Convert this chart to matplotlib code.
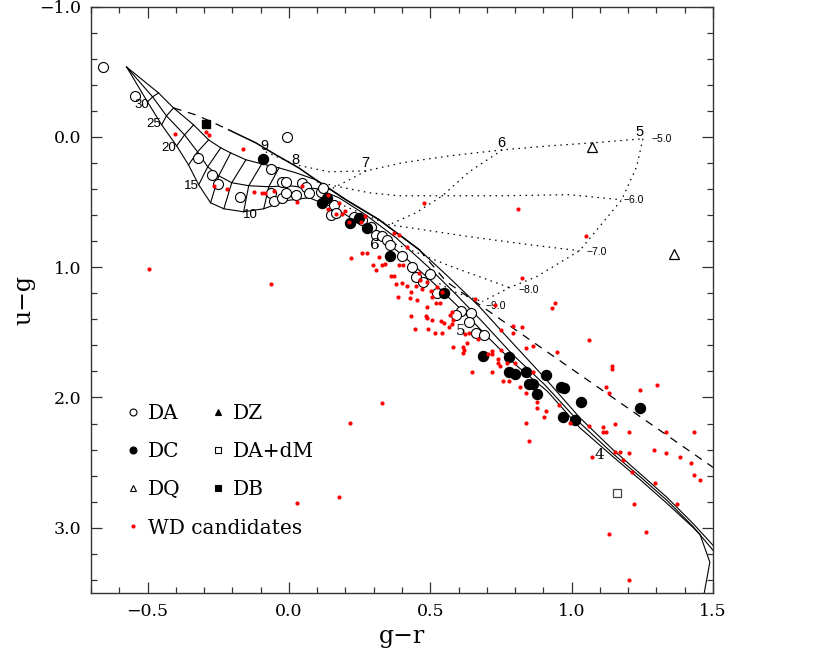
"""White dwarf u-g vs g-r colour-colour diagram with model tracks."""
import matplotlib
matplotlib.use('Agg')
import matplotlib.pyplot as plt
from matplotlib.lines import Line2D
from matplotlib.ticker import MultipleLocator

plt.rcParams['font.family'] = 'DejaVu Serif'

# ---- spectroscopically classified white dwarfs ----
da_gr = [-0.656, -0.546, -0.007, -0.323, -0.064, -0.273, -0.252, -0.174, -0.025, -0.011,
         -0.064, -0.053, -0.025, -0.011, 0.025, 0.046, 0.060, 0.071, 0.113, 0.121,
         0.160, 0.149, 0.167, 0.230, 0.259, 0.291, 0.309, 0.330, 0.348, 0.358,
         0.401, 0.436, 0.450, 0.475, 0.500, 0.525, 0.610, 0.592, 0.645, 0.638,
         0.663, 0.691]
da_ug = [-0.536, -0.314, 0.000, 0.161, 0.245, 0.291, 0.360, 0.460, 0.345, 0.345,
         0.429, 0.490, 0.467, 0.429, 0.444, 0.352, 0.383, 0.429, 0.421, 0.391,
         0.521, 0.598, 0.582, 0.613, 0.636, 0.690, 0.751, 0.759, 0.789, 0.828,
         0.912, 0.996, 1.073, 1.111, 1.050, 1.195, 1.333, 1.364, 1.349, 1.418,
         1.502, 1.517]

dc_gr = [-0.092, 0.117, 0.135, 0.216, 0.248, 0.277, 0.358, 0.550, 0.688, 0.780,
         0.780, 0.801, 0.840, 0.848, 0.862, 0.879, 0.911, 0.961, 0.972, 1.032,
         0.968, 1.011, 1.241]
dc_ug = [0.169, 0.506, 0.467, 0.659, 0.621, 0.697, 0.912, 1.195, 1.678, 1.693,
         1.808, 1.816, 1.801, 1.900, 1.900, 1.977, 1.831, 1.916, 1.931, 2.031,
         2.146, 2.169, 2.077]

dq_gr = [1.071, 1.362]
dq_ug = [0.077, 0.897]

dz_gr = []
dz_ug = []

db_gr = [-0.294]
db_ug = [-0.100]

dadm_gr = [1.160]
dadm_ug = [2.733]

# ---- photometric WD candidates ----
wd_gr = [-0.404, -0.294, -0.284, -0.163, -0.266, -0.220, -0.124, -0.096, -0.085, -0.053,
         0.028, 0.046, 0.138, 0.177, 0.138, 0.167, 0.188, 0.199, 0.270, 0.213,
         0.255, 0.479, 0.809, 1.050, -0.064, -0.496, 0.220, 0.259, 0.277, 0.319,
         0.298, 0.309, 0.330, 0.340, 0.362, 0.372, 0.379, 0.390, 0.404, 0.418,
         0.372, 0.390, 0.401, 0.418, 0.433, 0.450, 0.461, 0.465, 0.472, 0.489,
         0.504, 0.525, 0.543, 0.387, 0.429, 0.454, 0.489, 0.507, 0.521, 0.535,
         0.433, 0.486, 0.507, 0.539, 0.550, 0.578, 0.582, 0.567, 0.447, 0.493,
         0.518, 0.543, 0.582, 0.617, 0.638, 0.660, 0.730, 0.823, 0.940, 0.929,
         0.752, 0.791, 0.823, 1.060, 0.840, 0.862, 0.489, 0.571, 0.578, 0.621,
         0.617, 0.631, 0.624, 0.670, 0.720, 0.706, 0.720, 0.752, 0.741, 0.741,
         0.748, 0.770, 0.801, 0.791, 0.649, 0.720, 0.759, 0.780, 0.819, 0.840,
         0.862, 0.879, 0.879, 0.901, 0.908, 0.957, 0.993, 0.840, 0.851, 0.950,
         1.060, 1.110, 1.110, 1.121, 1.152, 1.121, 1.131, 1.142, 1.142, 1.241,
         1.301, 1.202, 1.071, 1.152, 1.170, 1.202, 1.181, 1.213, 1.291, 1.333,
         1.383, 1.333, 1.433, 1.422, 1.433, 1.454, 1.294, 1.220, 1.372, 1.131,
         1.262, 1.202, 0.330, 0.216, 0.028, 0.177]
wd_ug = [-0.023, -0.038, -0.015, 0.092, 0.375, 0.398, 0.421, 0.429, 0.429, 0.414,
         0.498, 0.375, 0.444, 0.506, 0.552, 0.590, 0.590, 0.567, 0.605, 0.651,
         0.651, 0.506, 0.552, 0.759, 1.126, 1.011, 0.927, 0.889, 0.889, 0.920,
         0.981, 1.019, 0.981, 0.973, 1.065, 1.065, 1.126, 0.981, 0.981, 0.843,
         0.736, 0.751, 1.119, 1.142, 1.188, 1.142, 1.042, 1.096, 1.165, 1.111,
         1.180, 1.149, 1.188, 1.226, 1.234, 1.249, 1.303, 1.226, 1.272, 1.272,
         1.372, 1.372, 1.402, 1.410, 1.425, 1.341, 1.402, 1.456, 1.471, 1.471,
         1.502, 1.502, 1.609, 1.609, 1.502, 1.241, 1.287, 1.080, 1.272, 1.310,
         1.479, 1.502, 1.456, 1.556, 1.617, 1.602, 1.387, 1.364, 1.433, 1.632,
         1.655, 1.579, 1.510, 1.548, 1.640, 1.663, 1.670, 1.632, 1.701, 1.732,
         1.755, 1.732, 1.732, 1.448, 1.801, 1.808, 1.870, 1.870, 1.923, 1.962,
         1.801, 2.038, 2.077, 2.146, 2.100, 2.061, 2.199, 2.199, 2.337, 1.648,
         2.222, 2.230, 2.268, 2.261, 2.207, 1.916, 1.962, 1.755, 1.778, 1.946,
         1.908, 2.268, 2.460, 2.421, 2.421, 2.429, 2.483, 2.575, 2.406, 2.429,
         2.460, 2.268, 2.261, 2.506, 2.598, 2.636, 2.659, 2.820, 2.820, 3.050,
         3.034, 3.402, 2.046, 2.199, 2.812, 2.766]

# ---- pure-H cooling tracks (three gravities), hot part sampled at common Teff ----
a_hot_gr = [-0.574, -0.461, -0.408, -0.337, -0.284, -0.241, -0.206, -0.152, -0.096, -0.035]
a_hot_ug = [-0.536, -0.337, -0.222, -0.092, 0.023, 0.084, 0.123, 0.176, 0.207, 0.238]
b_hot_gr = [-0.574, -0.482, -0.433, -0.369, -0.323, -0.287, -0.248, -0.202, -0.142, -0.071]
b_hot_ug = [-0.536, -0.307, -0.161, -0.015, 0.115, 0.230, 0.299, 0.352, 0.375, 0.383]
c_hot_gr = [-0.574, -0.500, -0.450, -0.397, -0.355, -0.319, -0.277, -0.230, -0.160, -0.089]
c_hot_ug = [-0.536, -0.268, -0.092, 0.069, 0.215, 0.368, 0.506, 0.552, 0.575, 0.552]

a_cool_gr = [0.025, 0.096, 0.202, 0.319, 0.461, 0.567, 0.674, 0.780, 0.904, 1.028,
             1.145, 1.241, 1.337, 1.429, 1.500]
a_cool_ug = [0.276, 0.330, 0.483, 0.636, 0.866, 1.080, 1.303, 1.556, 1.847, 2.153,
             2.398, 2.582, 2.766, 2.966, 3.134]
b_cool_gr = [0.000, 0.099, 0.177, 0.266, 0.379, 0.496, 0.592, 0.684, 0.791, 0.904,
             1.028, 1.145, 1.241, 1.337, 1.429, 1.500]
b_cool_ug = [0.375, 0.398, 0.467, 0.590, 0.774, 1.004, 1.211, 1.418, 1.670, 1.900,
             2.192, 2.429, 2.605, 2.789, 2.989, 3.172]
c_cool_gr = [-0.011, 0.071, 0.152, 0.195, 0.301, 0.408, 0.514, 0.610, 0.702, 0.805,
             0.915, 1.028, 1.145, 1.241, 1.337, 1.429, 1.454, 1.489, 1.465]
c_cool_ug = [0.490, 0.467, 0.536, 0.590, 0.728, 0.920, 1.126, 1.326, 1.533, 1.755,
             1.954, 2.230, 2.452, 2.628, 2.812, 2.996, 3.050, 3.264, 3.548]

# ---- pure-He track ----
he_gr = [-0.408, -0.330, -0.273, -0.213, -0.117, -0.046, 0.035, 0.096, 0.202, 0.319,
         0.461, 0.557, 1.500]
he_ug = [-0.222, -0.169, -0.115, -0.054, 0.046, 0.138, 0.238, 0.330, 0.483, 0.636,
         0.866, 1.111, 2.536]

# ---- DQ model grid: log C/He lines and isotherms ----
dq5_gr = [-0.082, 0.025, 0.142, 0.273, 0.401, 0.567, 0.755, 0.922, 1.074, 1.252]
dq5_ug = [0.115, 0.215, 0.268, 0.261, 0.199, 0.146, 0.100, 0.069, 0.046, 0.015]
dq6_gr = [0.099, 0.177, 0.284, 0.390, 0.543, 0.755, 0.993, 1.177]
dq6_ug = [0.345, 0.383, 0.429, 0.452, 0.452, 0.452, 0.444, 0.483]
dq7_gr = [0.195, 0.284, 0.355, 0.496, 0.638, 0.851, 1.028]
dq7_ug = [0.529, 0.613, 0.674, 0.720, 0.766, 0.828, 0.874]
dq8_gr = [0.337, 0.401, 0.567, 0.674, 0.780]
dq8_ug = [0.789, 0.843, 0.989, 1.073, 1.157]
dq9_gr = [0.532, 0.592, 0.684]
dq9_ug = [1.126, 1.195, 1.264]
t7_gr = [0.273, 0.213, 0.152]
t7_ug = [0.261, 0.330, 0.398]
t6_gr = [0.755, 0.638, 0.543, 0.450, 0.355]
t6_ug = [0.100, 0.268, 0.452, 0.582, 0.674]
t5_gr = [1.252, 1.230, 1.177, 1.110, 1.028, 0.876, 0.780, 0.684]
t5_ug = [0.015, 0.230, 0.483, 0.659, 0.874, 1.073, 1.157, 1.264]

# track annotations: (text, g-r, u-g)
teff_hot_labels = [("30", -0.520, -0.243), ("25", -0.479, -0.102), ("20", -0.426, 0.084),
                   ("15", -0.345, 0.375), ("10", -0.136, 0.598)]
teff_dq_labels = [("9", -0.086, 0.067), ("8", 0.024, 0.181), ("7", 0.272, 0.197),
                  ("6", 0.752, 0.046), ("5", 1.241, -0.038)]
abund_labels = [("\u22125.0", 1.284, 0.015), ("\u22126.0", 1.184, 0.483),
                ("\u22127.0", 1.053, 0.881), ("\u22128.0", 0.812, 1.172),
                ("\u22129.0", 0.695, 1.295)]
teff_cool_labels = [("6", 0.305, 0.828), ("5", 0.609, 1.492), ("4", 1.099, 2.442)]

xticks = [-0.5, 0.0, 0.5, 1.0, 1.5]
xticklabels = ['\u22120.5', '0.0', '0.5', '1.0', '1.5']
yticks = [-1.0, 0.0, 1.0, 2.0, 3.0]
yticklabels = ['\u22121.0', '0.0', '1.0', '2.0', '3.0']

SANS = 'Liberation Sans'
LW = 0.8

fig = plt.figure(figsize=(8.3, 6.59), dpi=100)
ax = fig.add_axes([0.1096, 0.1002, 0.7494, 0.8899])

# model tracks
for hg, hu, cg, cu in [(a_hot_gr, a_hot_ug, a_cool_gr, a_cool_ug),
                       (b_hot_gr, b_hot_ug, b_cool_gr, b_cool_ug),
                       (c_hot_gr, c_hot_ug, c_cool_gr, c_cool_ug)]:
    ax.plot(hg + cg, hu + cu, color='black', lw=LW, zorder=1)
for i in range(1, len(a_hot_gr)):
    ax.plot([a_hot_gr[i], b_hot_gr[i], c_hot_gr[i]],
            [a_hot_ug[i], b_hot_ug[i], c_hot_ug[i]], color='black', lw=LW, zorder=1)

# He track: dashed hot end, solid middle, dashed cool end
ax.plot(he_gr[:4], he_ug[:4], color='black', lw=0.9, ls=(0, (6.5, 5.5)), zorder=1)
ax.plot(he_gr[3:11], he_ug[3:11], color='black', lw=1.1, zorder=1)
ax.plot(he_gr[10:], he_ug[10:], color='black', lw=0.9, ls=(0, (6.5, 5.5)), zorder=1)

# DQ grid (dotted)
for gx, gy in [(dq5_gr, dq5_ug), (dq6_gr, dq6_ug), (dq7_gr, dq7_ug), (dq8_gr, dq8_ug),
               (dq9_gr, dq9_ug), (t7_gr, t7_ug), (t6_gr, t6_ug), (t5_gr, t5_ug)]:
    ax.plot(gx, gy, color='black', lw=0.9, ls=(0, (1.2, 3.6)), zorder=1)

# data points
ax.plot(da_gr, da_ug, ls='none', marker='o', ms=7.2, mfc='white', mec='black', mew=0.8, zorder=3)
ax.plot(dc_gr, dc_ug, ls='none', marker='o', ms=7.2, mfc='black', mec='black', zorder=3)
ax.plot(dq_gr, dq_ug, ls='none', marker='^', ms=7, mfc='white', mec='black', mew=0.9, zorder=3)
ax.plot(dz_gr, dz_ug, ls='none', marker='^', ms=7, mfc='black', mec='black', zorder=3)
ax.plot(db_gr, db_ug, ls='none', marker='s', ms=5.5, mfc='black', mec='black', zorder=3)
ax.plot(dadm_gr, dadm_ug, ls='none', marker='s', ms=5.5, mfc='white', mec='#444444', mew=0.9, zorder=3)
ax.plot(wd_gr, wd_ug, ls='none', marker='o', ms=3.0, mfc='red', mec='none', zorder=4)

# annotations
for txt, gx, gy in teff_hot_labels:
    ax.text(gx, gy, txt, fontsize=9.5, family=SANS, ha='center', va='center')
for txt, gx, gy in teff_dq_labels:
    ax.text(gx, gy, txt, fontsize=10.5, family=SANS, ha='center', va='center')
for txt, gx, gy in abund_labels:
    ax.text(gx, gy, txt, fontsize=7.5, family=SANS, ha='left', va='center')
for txt, gx, gy in teff_cool_labels:
    ax.text(gx, gy, txt, fontsize=11, ha='center', va='center')

ax.set_xlim(-0.7, 1.5)
ax.set_ylim(3.5, -1.0)
ax.set_xticks(xticks)
ax.set_xticklabels(xticklabels)
ax.set_yticks(yticks)
ax.set_yticklabels(yticklabels)
ax.xaxis.set_minor_locator(MultipleLocator(0.1))
ax.yaxis.set_minor_locator(MultipleLocator(0.2))
ax.tick_params(which='both', direction='in', top=True, right=True, labelsize=12.5,
               width=0.9, color='#333333')
ax.tick_params(which='major', length=8, pad=7)
ax.tick_params(which='minor', length=4)
for sp in ax.spines.values():
    sp.set_linewidth(1.0)
    sp.set_color('#333333')

ax.set_xlabel('g\u2212r', fontsize=17)
ax.set_ylabel('u\u2212g', fontsize=17)
ax.xaxis.set_label_coords(0.5, -0.055)
ax.yaxis.set_label_coords(-0.09, 0.5)

# legend in two columns
h = dict(ls='none', mec='black', mew=0.8)
leg_kw = dict(loc='upper left', frameon=False, fontsize=14.5, handlelength=0.7,
              handletextpad=0.4, labelspacing=0.95, borderpad=0, borderaxespad=0)
leg1 = ax.legend([Line2D([], [], marker='o', ms=5, mfc='white', **h),
                  Line2D([], [], marker='o', ms=5, mfc='black', **h),
                  Line2D([], [], marker='^', ms=5, mfc='white', **h),
                  Line2D([], [], ls='none', marker='o', ms=3.0, mfc='red', mec='none')],
                 ['DA', 'DC', 'DQ', 'WD candidates'],
                 bbox_to_anchor=(0.056, 0.322), **leg_kw)
ax.add_artist(leg1)
ax.legend([Line2D([], [], marker='^', ms=5, mfc='black', **h),
           Line2D([], [], marker='s', ms=4.5, mfc='white', **h),
           Line2D([], [], marker='s', ms=4.5, mfc='black', **h)],
          ['DZ', 'DA+dM', 'DB'],
          bbox_to_anchor=(0.193, 0.322), **leg_kw)

fig.savefig('out.png', dpi=100, facecolor='white')
